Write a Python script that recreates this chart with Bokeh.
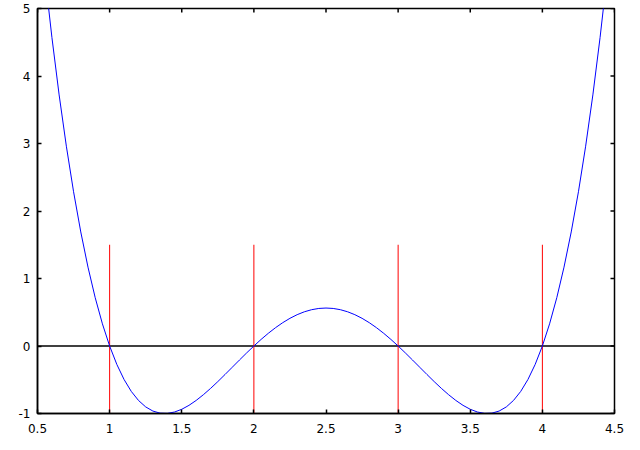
import math
from bokeh.plotting import figure
from bokeh.models import LinearAxis, FixedTicker, Range1d
from bokeh.embed import file_html
from bokeh.resources import INLINE

curve_x = [0.5, 0.55, 0.6, 0.65, 0.7, 0.75, 0.8, 0.85, 0.9, 0.95,
           1.0, 1.05, 1.1, 1.15, 1.2, 1.25, 1.3, 1.35, 1.4, 1.45,
           1.5, 1.55, 1.6, 1.65, 1.7, 1.75, 1.8, 1.85, 1.9, 1.95,
           2.0, 2.05, 2.1, 2.15, 2.2, 2.25, 2.3, 2.35, 2.4, 2.45,
           2.5, 2.55, 2.6, 2.65, 2.7, 2.75, 2.8, 2.85, 2.9, 2.95,
           3.0, 3.05, 3.1, 3.15, 3.2, 3.25, 3.3, 3.35, 3.4, 3.45,
           3.5, 3.55, 3.6, 3.65, 3.7, 3.75, 3.8, 3.85, 3.9, 3.95,
           4.0, 4.05, 4.1, 4.15, 4.2, 4.25, 4.3, 4.35, 4.4, 4.45, 4.5]
curve_y = [6.5625, 5.51526, 4.5696, 3.71976, 2.9601, 2.28516, 1.6896, 1.16826, 0.7161, 0.32826,
           0.0, -0.27324, -0.4959, -0.67224, -0.8064, -0.90234, -0.9639, -0.99474, -0.9984, -0.97824,
           -0.9375, -0.87924, -0.8064, -0.72174, -0.6279, -0.52734, -0.4224, -0.31524, -0.2079, -0.10224,
           0.0, 0.09726, 0.1881, 0.27126, 0.3456, 0.41016, 0.4641, 0.50676, 0.5376, 0.55626,
           0.5625, 0.55626, 0.5376, 0.50676, 0.4641, 0.41016, 0.3456, 0.27126, 0.1881, 0.09726,
           0.0, -0.10224, -0.2079, -0.31524, -0.4224, -0.52734, -0.6279, -0.72174, -0.8064, -0.87924,
           -0.9375, -0.97824, -0.9984, -0.99474, -0.9639, -0.90234, -0.8064, -0.67224, -0.4959, -0.27324,
           0.0, 0.32826, 0.7161, 1.16826, 1.6896, 2.28516, 2.9601, 3.71976, 4.5696, 5.51526, 6.5625]

# roots marked by red vertical lines
roots = [1, 2, 3, 4]
root_bottom = [-1, -1, -1, -1]
root_top = [1.5, 1.5, 1.5, 1.5]

# zero line
zero_x = [0.5, 4.5]
zero_y = [0, 0]

x_ticks = [0.5, 1, 1.5, 2, 2.5, 3, 3.5, 4, 4.5]
x_tick_labels = ["0.5", "1", "1.5", "2", "2.5", "3", "3.5", "4", "4.5"]
y_ticks = [-1, 0, 1, 2, 3, 4, 5]
y_tick_labels = ["-1", "0", "1", "2", "3", "4", "5"]

X0, X1 = x_ticks[0], x_ticks[-1]
Y0, Y1 = y_ticks[0], y_ticks[-1]

p = figure(width=632, height=442, output_backend="svg", toolbar_location=None,
           x_range=Range1d(X0, X1), y_range=Range1d(Y0, Y1),
           min_border_left=37, min_border_right=18, min_border_top=8, min_border_bottom=29,
           x_axis_type=None, y_axis_type=None)
p.grid.visible = False
p.outline_line_color = "black"
p.outline_line_width = 1.5
p.background_fill_color = "white"
p.border_fill_color = "white"

FONT = "DejaVu Sans"

def style(ax):
    ax.axis_line_color = "black"
    ax.axis_line_width = 1.5
    ax.major_tick_in = 4
    ax.major_tick_out = 0
    ax.major_tick_line_color = "black"
    ax.major_tick_line_width = 1.5
    ax.minor_tick_line_color = None
    ax.major_label_text_font = FONT
    ax.major_label_text_color = "black"
    ax.major_label_text_font_size = "12px"

xb = LinearAxis(ticker=FixedTicker(ticks=x_ticks),
                major_label_overrides={t: s for t, s in zip(x_ticks, x_tick_labels)})
style(xb)
xb.major_label_standoff = 10
p.add_layout(xb, "below")

yl = LinearAxis(ticker=FixedTicker(ticks=y_ticks),
                major_label_overrides={t: s for t, s in zip(y_ticks, y_tick_labels)})
style(yl)
yl.major_label_standoff = 7
p.add_layout(yl, "left")

# mirror ticks on top and right borders
p.ray(x=x_ticks, y=[Y1] * len(x_ticks), length=4, length_units="screen",
      angle=-math.pi / 2, line_color="black", line_width=1.5)
p.ray(x=[X1] * len(y_ticks), y=y_ticks, length=4, length_units="screen",
      angle=math.pi, line_color="black", line_width=1.5)

p.line(zero_x, zero_y, line_color="black", line_width=1.5)
p.segment(x0=roots, y0=root_bottom, x1=roots, y1=root_top, line_color="red", line_width=1)
p.line(curve_x, curve_y, line_color="blue", line_width=1)

open("out.html", "w").write(file_html(p, INLINE))
